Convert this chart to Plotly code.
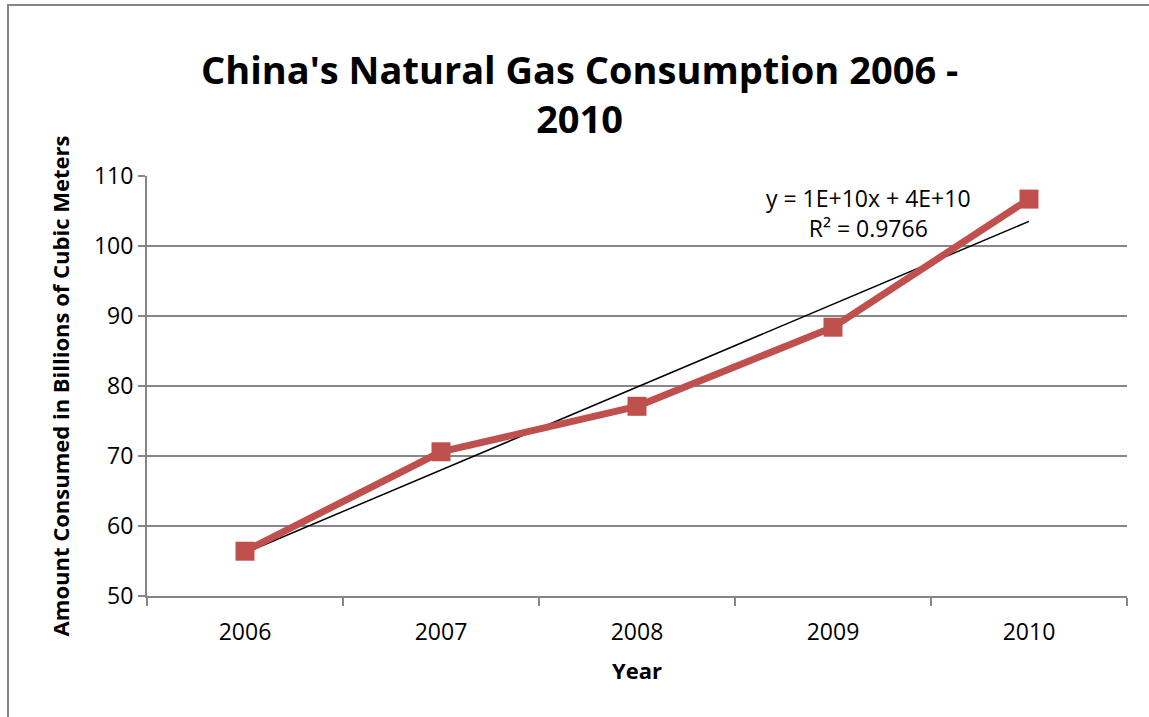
import numpy as np
import plotly.graph_objects as go

years = [2006, 2007, 2008, 2009, 2010]
consumption = [56.4, 70.6, 77.1, 88.4, 106.7]
y_ticks = [50, 60, 70, 80, 90, 100, 110]
title_text = "China's Natural Gas Consumption 2006 -<br>2010"
trend_label = "y = 1E+10x + 4E+10<br>R² = 0.9766"

slope, intercept = np.polyfit(years, consumption, 1)
trend = [slope * x + intercept for x in years]

FONT = "Open Sans"
fig = go.Figure()
fig.add_trace(go.Scatter(x=years, y=trend, mode="lines",
                         line=dict(color="black", width=1.5), hoverinfo="skip"))
fig.add_trace(go.Scatter(x=years, y=consumption, mode="lines+markers",
                         line=dict(color="#C0504D", width=7),
                         marker=dict(symbol="square", size=19, color="#C0504D")))

fig.update_layout(
    width=1149, height=717,
    margin=dict(l=147, r=22, t=176, b=121),
    paper_bgcolor="white", plot_bgcolor="white",
    showlegend=False,
    font=dict(family=FONT, color="black"),
    xaxis=dict(range=[2005.5, 2010.5], tickvals=years, ticks="",
               showgrid=False, zeroline=False,
               showline=True, linecolor="#868686", linewidth=2,
               tickfont=dict(size=23), ticklabelstandoff=14,
               minor=dict(tick0=2005.5, dtick=1, ticks="outside", ticklen=8,
                          tickcolor="#868686", tickwidth=2, showgrid=False),
               title=dict(text="<b>Year</b>", font=dict(size=22), standoff=18)),
    yaxis=dict(range=[50, 110], tickvals=y_ticks, ticks="outside", ticklen=7,
               tickcolor="#868686", tickwidth=2,
               showgrid=True, gridcolor="#868686", gridwidth=1.5,
               zeroline=False, showline=True, linecolor="#868686", linewidth=2,
               tickfont=dict(size=23),
               title=dict(text="<b>Amount Consumed in Billions of Cubic Meters</b>",
                          font=dict(size=22), standoff=18)),
    annotations=[
        dict(text="<b>" + title_text + "</b>", x=0.441, y=1 + 83 / 420,
             xref="paper", yref="paper", showarrow=False, align="center",
             xanchor="center", yanchor="middle", font=dict(size=38, family=FONT)),
        dict(text=trend_label, x=2009.18, y=104.7, xref="x", yref="y",
             showarrow=False, align="center", xanchor="center",
             yanchor="middle", font=dict(size=23, family=FONT)),
    ],
    shapes=[dict(type="rect", xref="paper", yref="paper",
                 x0=-139 / 980, x1=1.2, y0=-0.5, y1=1 + 171 / 420,
                 line=dict(color="#868686", width=2))],
)

fig.write_html("out.html", config={"displayModeBar": False},
               post_script="document.body.style.margin='0';")
